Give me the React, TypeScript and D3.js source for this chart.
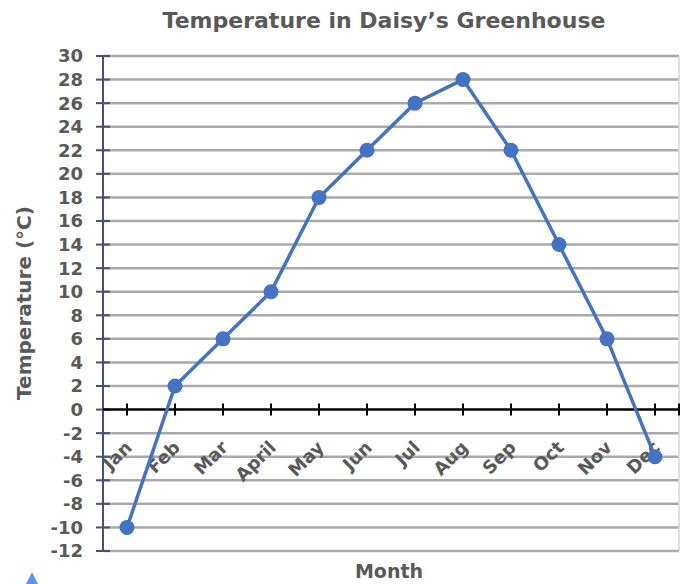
import React, { useEffect, useRef } from 'react';
import * as d3 from 'd3';

const months = ['Jan', 'Feb', 'Mar', 'April', 'May', 'Jun', 'Jul', 'Aug', 'Sep', 'Oct', 'Nov', 'Dec'];
const temps = [-10, 2, 6, 10, 18, 22, 26, 28, 22, 14, 6, -4];
const yTicks = d3.range(-12, 31, 2);

const App = () => {
  const chartRef = useRef<SVGSVGElement>(null);

  useEffect(() => {
    const width = 691;
    const height = 584;
    const left = 103;
    const right = 679;
    const top = 56;
    const bottom = 551;
    const font = "'DejaVu Sans', Verdana, sans-serif";
    const textColor = '#595959';

    const svg = d3.select(chartRef.current);
    svg.selectAll('*').remove();
    svg.attr('width', width).attr('height', height);

    svg.append('rect').attr('width', width).attr('height', height).attr('fill', '#fff');

    const x = d3.scaleBand().domain(months).range([left, right]);
    const y = d3.scaleLinear().domain([-12, 30]).range([bottom, top]);
    const cx = (m) => x(m) + x.bandwidth() / 2;

    // gridlines
    svg
      .append('g')
      .selectAll('line')
      .data(yTicks.filter((d) => d !== 0))
      .enter()
      .append('line')
      .attr('x1', left)
      .attr('x2', right)
      .attr('y1', (d) => y(d))
      .attr('y2', (d) => y(d))
      .attr('stroke', '#a9a9a9')
      .attr('stroke-width', 2.5);

    // right border
    svg
      .append('line')
      .attr('x1', right)
      .attr('x2', right)
      .attr('y1', top)
      .attr('y2', bottom)
      .attr('stroke', '#d4d4d4')
      .attr('stroke-width', 1.5);

    // y axis
    svg
      .append('line')
      .attr('x1', left)
      .attr('x2', left)
      .attr('y1', top)
      .attr('y2', bottom)
      .attr('stroke', '#44546a')
      .attr('stroke-width', 2);
    svg
      .append('g')
      .selectAll('line')
      .data(yTicks)
      .enter()
      .append('line')
      .attr('x1', left - 7)
      .attr('x2', left + 7)
      .attr('y1', (d) => y(d))
      .attr('y2', (d) => y(d))
      .attr('stroke', '#44546a')
      .attr('stroke-width', 2);
    svg
      .append('g')
      .selectAll('text')
      .data(yTicks)
      .enter()
      .append('text')
      .attr('x', 83)
      .attr('y', (d) => y(d))
      .attr('dy', '0.36em')
      .attr('text-anchor', 'end')
      .attr('font-family', font)
      .attr('font-weight', 'bold')
      .attr('font-size', 18)
      .attr('fill', textColor)
      .text((d) => d);

    // zero line with month ticks
    svg
      .append('line')
      .attr('x1', left)
      .attr('x2', right + 1)
      .attr('y1', y(0))
      .attr('y2', y(0))
      .attr('stroke', '#000')
      .attr('stroke-width', 2.5);
    svg
      .append('g')
      .selectAll('line')
      .data([...months.map(cx), right])
      .enter()
      .append('line')
      .attr('x1', (d) => d)
      .attr('x2', (d) => d)
      .attr('y1', y(0) - 6)
      .attr('y2', y(0) + 6)
      .attr('stroke', '#000')
      .attr('stroke-width', 2);

    // month labels
    svg
      .append('g')
      .selectAll('text')
      .data(months)
      .enter()
      .append('text')
      .attr('transform', (d) => `translate(${cx(d) + 6},${y(0) + 39}) rotate(-45)`)
      .attr('text-anchor', 'end')
      .attr('font-family', font)
      .attr('font-weight', 'bold')
      .attr('font-size', 18)
      .attr('fill', textColor)
      .text((d) => d);

    // line + markers
    const line = d3
      .line<number>()
      .x((d, i) => cx(months[i]))
      .y((d) => y(d));
    svg
      .append('path')
      .datum(temps)
      .attr('d', line)
      .attr('fill', 'none')
      .attr('stroke', '#4472c4')
      .attr('stroke-width', 3.5);
    svg
      .append('g')
      .selectAll('circle')
      .data(temps)
      .enter()
      .append('circle')
      .attr('cx', (d, i) => cx(months[i]))
      .attr('cy', (d) => y(d))
      .attr('r', 7.5)
      .attr('fill', '#4472c4');

    // titles
    svg
      .append('text')
      .attr('x', 384)
      .attr('y', 28)
      .attr('text-anchor', 'middle')
      .attr('font-family', font)
      .attr('font-weight', 'bold')
      .attr('font-size', 22)
      .attr('fill', textColor)
      .text('Temperature in Daisy\u2019s Greenhouse');
    svg
      .append('text')
      .attr('transform', `translate(31,303) rotate(-90)`)
      .attr('text-anchor', 'middle')
      .attr('font-family', font)
      .attr('font-weight', 'bold')
      .attr('font-size', 20)
      .attr('fill', textColor)
      .text('Temperature (°C)');
    svg
      .append('text')
      .attr('x', 389)
      .attr('y', 578)
      .attr('text-anchor', 'middle')
      .attr('font-family', font)
      .attr('font-weight', 'bold')
      .attr('font-size', 19)
      .attr('fill', textColor)
      .text('Month');

    // small marker in the corner
    svg
      .append('path')
      .attr('d', 'M26,584 L32,572 L38,584 Z')
      .attr('fill', '#5b8ff9');

    return () => {
      svg.selectAll('*').remove();
    };
  }, []);

  return <svg ref={chartRef} style={{ position: 'absolute', left: 0, top: 0, display: 'block' }}></svg>;
};

export default App;
